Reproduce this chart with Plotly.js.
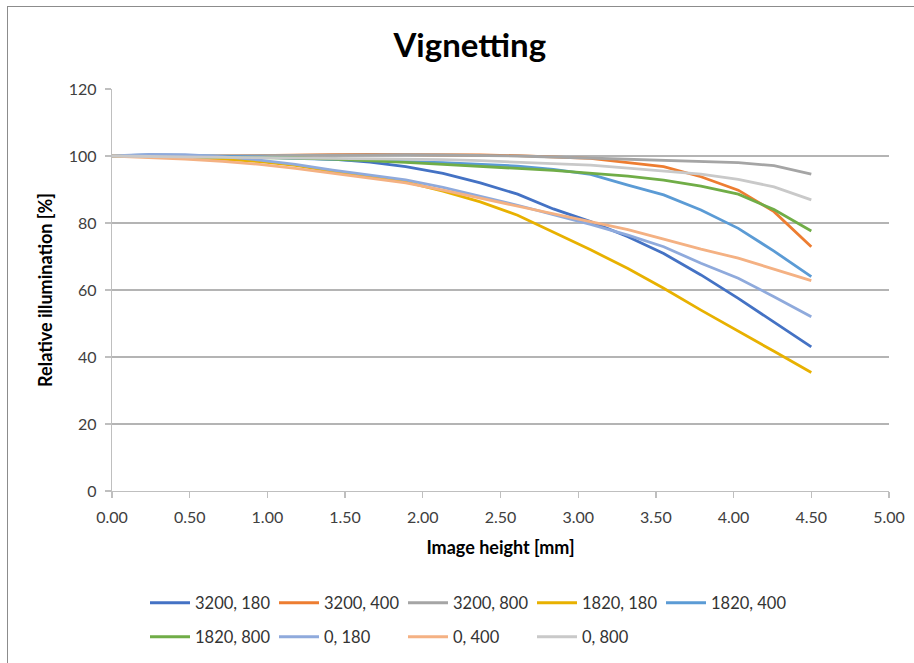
<!DOCTYPE html>
<html>
<head>
<meta charset="utf-8">
<script src="https://cdn.plot.ly/plotly-3.0.1.min.js"></script>
<style>
html,body{margin:0;padding:0;background:#fff;}
#wrap{position:relative;width:914px;height:663px;overflow:hidden;}
#frame{position:absolute;left:7px;top:6px;width:2000px;height:2000px;border:1px solid #8c8c8c;pointer-events:none;z-index:5;}
#chart{position:absolute;left:0;top:0;width:914px;height:663px;}
</style>
</head>
<body>
<div id="wrap"><div id="chart"></div><div id="frame"></div></div>
<script>
// Image height [mm]
const imageHeight = [0.00, 0.24, 0.47, 0.71, 0.95, 1.18, 1.42, 1.66, 1.89, 2.13, 2.37, 2.61, 2.84, 3.08, 3.32, 3.55, 3.79, 4.03, 4.26, 4.50];

// Relative illumination [%]
const s3200_180 = [100, 100.0, 99.9, 99.8, 99.7, 99.5, 99.1, 98.2, 96.8, 94.8, 92.0, 88.6, 84.2, 80.4, 75.9, 70.9, 64.5, 57.5, 50.5, 43.0];
const s3200_400 = [100, 99.9, 99.9, 100.0, 100.2, 100.3, 100.4, 100.5, 100.5, 100.4, 100.3, 100.1, 99.8, 99.3, 98.0, 96.8, 93.8, 89.8, 83.4, 72.9];
const s3200_800 = [100, 99.9, 99.9, 100.0, 100.1, 100.3, 100.4, 100.4, 100.4, 100.3, 100.2, 100.0, 99.7, 99.4, 99.1, 98.8, 98.5, 98.0, 97.1, 94.6];
const s1820_180 = [100, 99.9, 99.6, 99.1, 98.3, 97.2, 95.4, 94.0, 92.3, 89.5, 86.3, 82.3, 77.2, 72.0, 66.4, 60.5, 54.0, 47.6, 41.7, 35.4];
const s1820_400 = [100, 100.3, 100.2, 100.0, 99.7, 99.3, 98.9, 98.6, 98.3, 98.0, 97.6, 97.0, 96.0, 94.5, 91.3, 88.4, 83.9, 78.4, 71.6, 64.0];
const s1820_800 = [100, 99.9, 99.9, 99.8, 99.6, 99.4, 99.1, 98.7, 98.1, 97.5, 96.8, 96.3, 95.7, 94.9, 94.0, 92.8, 91.0, 88.6, 84.0, 77.6];
const s0_180 = [100, 100.5, 100.4, 99.8, 98.8, 97.5, 95.8, 94.4, 92.9, 90.6, 88.0, 85.3, 82.5, 79.6, 76.4, 72.9, 68.0, 63.5, 58.0, 52.0];
const s0_400 = [100, 99.6, 99.1, 98.4, 97.5, 96.3, 94.9, 93.5, 92.0, 89.8, 87.4, 85.0, 82.8, 80.5, 78.0, 75.2, 72.2, 69.5, 66.3, 62.8];
const s0_800 = [100, 99.8, 99.7, 99.6, 99.5, 99.4, 99.3, 99.2, 99.1, 98.9, 98.6, 98.2, 97.8, 97.3, 96.4, 95.6, 94.6, 93.0, 90.8, 86.9];

const seriesNames = ["3200, 180", "3200, 400", "3200, 800", "1820, 180", "1820, 400", "1820, 800", "0, 180", "0, 400", "0, 800"];
const seriesValues = [s3200_180, s3200_400, s3200_800, s1820_180, s1820_400, s1820_800, s0_180, s0_400, s0_800];
const seriesColors = ["#4472C4", "#ED7D31", "#A5A5A5", "#E8B100", "#5B9BD5", "#70AD47", "#8FAADC", "#F4B183", "#C9C9C9"];

const xTicks = [0, 0.5, 1, 1.5, 2, 2.5, 3, 3.5, 4, 4.5, 5];
const xTickText = ["0.00", "0.50", "1.00", "1.50", "2.00", "2.50", "3.00", "3.50", "4.00", "4.50", "5.00"];
const yTicks = [0, 20, 40, 60, 80, 100, 120];

const FONT = "Lato, 'Open Sans', sans-serif";

const traces = seriesNames.map((name, i) => ({
  type: "scatter",
  mode: "lines",
  name: name,
  x: imageHeight,
  y: seriesValues[i],
  line: {color: seriesColors[i], width: 2.8},
  legend: i < 5 ? "legend" : "legend2",
  hoverinfo: "skip"
}));

const legendCommon = {
  orientation: "h",
  xref: "container", yref: "container",
  xanchor: "left", yanchor: "middle",
  font: {family: FONT, size: 16.5, color: "#333333"},
  entrywidth: 74, entrywidthmode: "pixels",
  itemwidth: 40,
  tracegroupgap: 0,
  bgcolor: "rgba(0,0,0,0)",
  traceorder: "normal"
};

const layout = {
  width: 914, height: 663,
  paper_bgcolor: "#ffffff", plot_bgcolor: "#ffffff",
  margin: {l: 112, r: 25, t: 89, b: 172},
  title: {text: "<b>Vignetting</b>", font: {family: FONT, size: 33, color: "#000000"}, x: 0.514, xanchor: "center", y: 0.932, yanchor: "middle"},
  showlegend: true,
  xaxis: {
    range: [0, 5], tickmode: "array", tickvals: xTicks, ticktext: xTickText,
    showgrid: false, zeroline: false,
    showline: true, linecolor: "#BFBFBF", linewidth: 1.3,
    ticks: "outside", ticklen: 6, tickcolor: "#BFBFBF", tickwidth: 1.3,
    ticklabelstandoff: 5,
    tickfont: {family: FONT, size: 16, color: "#404040"},
    title: {text: "<b>Image height [mm]</b>", font: {family: FONT, size: 18, color: "#000000"}, standoff: 17}
  },
  yaxis: {
    range: [0, 120], tickmode: "array", tickvals: yTicks,
    showgrid: true, gridcolor: "#B4B4B4", gridwidth: 1.3, zeroline: false,
    showline: true, linecolor: "#BFBFBF", linewidth: 1.3,
    ticks: "outside", ticklen: 6, tickcolor: "#BFBFBF", tickwidth: 1.3,
    ticklabelstandoff: 5,
    tickfont: {family: FONT, size: 16, color: "#404040"},
    title: {text: "<b>Relative illumination [%]</b>", font: {family: FONT, size: 18, color: "#000000"}, standoff: 11}
  },
  legend: Object.assign({}, legendCommon, {x: 145 / 914, y: 1 - 603 / 663}),
  legend2: Object.assign({}, legendCommon, {x: 145 / 914, y: 1 - 637 / 663})
};

Plotly.newPlot("chart", traces, layout, {displayModeBar: false, staticPlot: true});
</script>
</body>
</html>
